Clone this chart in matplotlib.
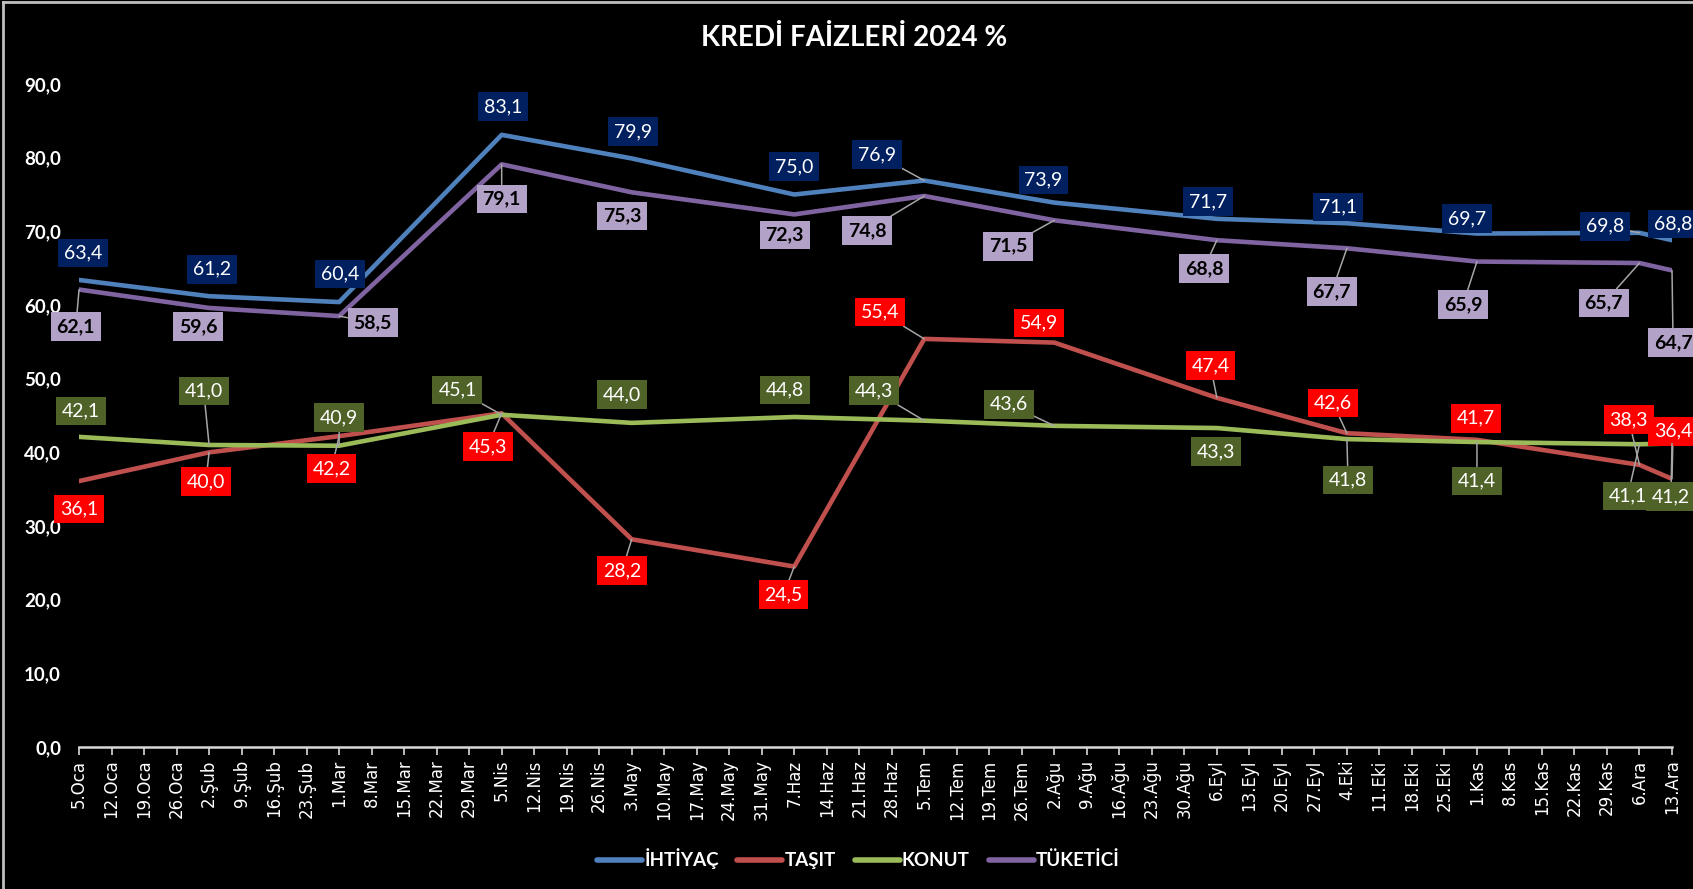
import matplotlib.pyplot as plt
from matplotlib.lines import Line2D

plt.rcParams['font.family'] = ['Lato', 'DejaVu Sans']

# weekly x axis
dates = ['5.Oca', '12.Oca', '19.Oca', '26.Oca', '2.Şub', '9.Şub', '16.Şub', '23.Şub',
         '1.Mar', '8.Mar', '15.Mar', '22.Mar', '29.Mar', '5.Nis', '12.Nis', '19.Nis',
         '26.Nis', '3.May', '10.May', '17.May', '24.May', '31.May', '7.Haz', '14.Haz',
         '21.Haz', '28.Haz', '5.Tem', '12.Tem', '19.Tem', '26.Tem', '2.Ağu', '9.Ağu',
         '16.Ağu', '23.Ağu', '30.Ağu', '6.Eyl', '13.Eyl', '20.Eyl', '27.Eyl', '4.Eki',
         '11.Eki', '18.Eki', '25.Eki', '1.Kas', '8.Kas', '15.Kas', '22.Kas', '29.Kas',
         '6.Ara', '13.Ara']

# dates that have a value
obs_dates = ['5.Oca', '2.Şub', '1.Mar', '5.Nis', '3.May', '7.Haz', '5.Tem', '2.Ağu',
             '6.Eyl', '4.Eki', '1.Kas', '6.Ara', '13.Ara']

ihtiyac = [63.4, 61.2, 60.4, 83.1, 79.9, 75.0, 76.9, 73.9, 71.7, 71.1, 69.7, 69.8, 68.8]
tasit = [36.1, 40.0, 42.2, 45.3, 28.2, 24.5, 55.4, 54.9, 47.4, 42.6, 41.7, 38.3, 36.4]
konut = [42.1, 41.0, 40.9, 45.1, 44.0, 44.8, 44.3, 43.6, 43.3, 41.8, 41.4, 41.1, 41.2]
tuketici = [62.1, 59.6, 58.5, 79.1, 75.3, 72.3, 74.8, 71.5, 68.8, 67.7, 65.9, 65.7, 64.7]

# label offsets in screen pixels (x right, y down) and leader line flags
ihtiyac_off = [(4, -25), (3, -25), (1, -26), (1, -26), (1, -25), (0, -26), (-44, -24),
               (-10, -21), (-8, -16), (-8, -15), (-9, -14), (-32, -6), (1, -15)]
ihtiyac_lead = [0, 0, 0, 0, 0, 0, 1, 0, 0, 0, 0, 1, 0]
tuketici_off = [(-3, 34), (-10, 17), (31, 6), (0, 32), (-9, 22), (-9, 19), (-53, 32),
                (-43, 24), (-12, 26), (-14, 40), (-13, 40), (-33, 37), (1, 67)]
tuketici_lead = [1, 0, 1, 1, 0, 0, 1, 1, 1, 1, 1, 1, 1]
tasit_off = [(0, 26), (-3, 27), (-7, 30), (-13, 31), (-9, 29), (-10, 26), (-41, -25),
             (-14, -18), (-6, -30), (-13, -28), (-1, -20), (-10, -42), (1, -44)]
tasit_lead = [0, 1, 1, 1, 1, 1, 1, 0, 1, 1, 0, 1, 1]
konut_off = [(2, -24), (-5, -50), (0, -26), (-41, -23), (-9, -26), (-9, -25), (-47, -28),
             (-42, -20), (-1, 22), (1, 38), (0, 36), (-11, 48), (-1, 49)]
konut_lead = [0, 1, 1, 1, 0, 0, 1, 1, 0, 1, 1, 1, 1]

series = [
    ('İHTİYAÇ', ihtiyac, '#4F81BD', '#002060', 'white', 'normal', ihtiyac_off, ihtiyac_lead),
    ('TAŞIT', tasit, '#C0504D', '#FF0000', 'white', 'normal', tasit_off, tasit_lead),
    ('KONUT', konut, '#9BBB59', '#4F6228', 'white', 'normal', konut_off, konut_lead),
    ('TÜKETİCİ', tuketici, '#8064A2', '#B3A2C7', 'black', 'bold', tuketici_off, tuketici_lead),
]

px2pt = 1693 / 1568 * 72 / 100

fig = plt.figure(figsize=(16.93, 8.89), dpi=100, facecolor='black')
ax = fig.add_axes([0.0467, 0.1597, 0.9409, 0.7458])
ax.set_facecolor('black')

xs = [dates.index(d) for d in obs_dates]

for name, vals, color, box, tcol, weight, offs, leads in series:
    ax.plot(xs, vals, color=color, lw=3.3, label=name, solid_joinstyle='round',
            solid_capstyle='round', zorder=3)

for name, vals, color, box, tcol, weight, offs, leads in series:
    for x, v, (dx, dy), lead in zip(xs, vals, offs, leads):
        arrow = None
        if lead:
            arrow = dict(arrowstyle='-', color='#A6A6A6', lw=1.1, shrinkA=0, shrinkB=0)
        ax.annotate(f'{v:.1f}'.replace('.', ','), xy=(x, v),
                    xytext=(dx * px2pt, -dy * px2pt), textcoords='offset points',
                    ha='center', va='center', fontsize=14, color=tcol, fontweight=weight,
                    bbox=dict(boxstyle='square,pad=0.3', fc=box, ec='none'),
                    arrowprops=arrow, annotation_clip=False, zorder=5)

ax.set_xlim(0, len(dates) - 1)
ax.set_ylim(0, 90)
ax.set_xticks(range(len(dates)))
ax.set_xticklabels(dates, rotation=90, fontsize=12, color='white')
for lbl in ax.get_xticklabels():
    lbl.set_fontfamily('DejaVu Sans')
ax.set_yticks(range(0, 91, 10))
ax.set_yticklabels([f'{t},0' for t in range(0, 91, 10)], fontsize=13.5,
                   fontweight='bold', color='white')
ax.tick_params(axis='y', length=0, pad=13)
ax.tick_params(axis='x', direction='out', length=6, width=1.2, color='#D9D9D9', pad=3)
for s in ['top', 'right', 'left']:
    ax.spines[s].set_visible(False)
ax.spines['bottom'].set_color('#D9D9D9')
ax.spines['bottom'].set_linewidth(1.8)

fig.text(0.5045, 1 - 38 / 889, 'KREDİ FAİZLERİ 2024 %', ha='center', va='center',
         fontsize=20, fontweight='bold', color='white')

leg = fig.legend(loc='center', bbox_to_anchor=(0.507, 1 - 859 / 889), ncol=4, frameon=False,
                 handlelength=2.4, handletextpad=0.12, columnspacing=1.0,
                 prop={'weight': 'bold', 'size': 13.5})
for t in leg.get_texts():
    t.set_color('white')
for h in leg.legend_handles:
    h.set_linewidth(4)

# chart frame (left and top)
fig.add_artist(Line2D([0.0015, 0.0015], [0, 0.998], color='#BFBFBF', lw=2))
fig.add_artist(Line2D([0.0015, 1], [0.998, 0.998], color='#BFBFBF', lw=2))

fig.savefig('out.png', dpi=100, facecolor='black')
